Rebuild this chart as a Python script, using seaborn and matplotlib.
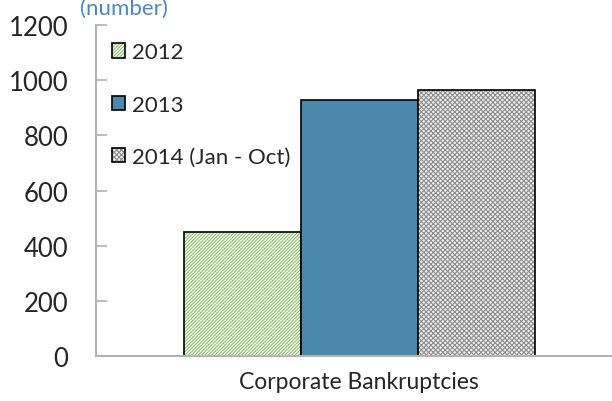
import matplotlib
matplotlib.use("Agg")
import matplotlib.pyplot as plt
import matplotlib.colors as mcolors
import seaborn as sns
import pandas as pd

# values
category = ["Corporate Bankruptcies"] * 3
periods = ["2012", "2013", "2014 (Jan - Oct)"]
counts = [450, 930, 965]
yticks = [0, 200, 400, 600, 800, 1000, 1200]

df = pd.DataFrame({"category": category, "period": periods, "count": counts})

sns.set_style("white")
plt.rcParams["font.family"] = ["Lato", "DejaVu Sans"]
plt.rcParams["hatch.linewidth"] = 0.8

fig = plt.figure(figsize=(6.12, 4.02), dpi=100)
ax = fig.add_axes([0.157, 0.112, 0.843, 0.823])

sns.barplot(data=df, x="category", y="count", hue="period", width=0.68,
            palette=["white", "#4a89ac", "white"], edgecolor="black",
            linewidth=1.2, legend=False, ax=ax)

# fill / hatch per series
styles = [("white", "//////////", "#8cbf6a"),
          ("#4a89ac", None, None),
          ("#f2f2f2", "xxxxxxx", "#8c8c8c")]
handles = []
for cont, (fc, hatch, hc) in zip(ax.containers, styles):
    for bar in cont:
        bar.set_facecolor(fc)
        bar.set_edgecolor("black")
        if hatch:
            bar.set_hatch(hatch)
            bar._hatch_color = mcolors.to_rgba(hc)
    handles.append(cont[0])

ax.set_ylim(0, 1200)
ax.set_xlim(-0.51, 0.49)
ax.set_yticks(yticks)
ax.set_xlabel("")
ax.set_ylabel("")

for side in ["top", "right"]:
    ax.spines[side].set_visible(False)
for side in ["left", "bottom"]:
    ax.spines[side].set_color("#b3b3b3")
    ax.spines[side].set_linewidth(1.5)

ax.tick_params(axis="y", direction="in", length=8, width=1.2, color="#b3b3b3",
               labelsize=18.5, pad=20, left=True)
ax.tick_params(axis="x", length=0, labelsize=16.5, pad=11)

ax.legend(handles, periods, loc="upper left", frameon=False, fontsize=16,
          handlelength=0.6, handleheight=0.6, handletextpad=0.3,
          labelspacing=1.45, borderaxespad=0.3, bbox_to_anchor=(0.0, 0.995))

fig.text(80 / 612, 1 - 15 / 402, "(number)", color="#4f87c0", fontsize=16,
         va="baseline", ha="left")

fig.savefig("out.png", dpi=100)
